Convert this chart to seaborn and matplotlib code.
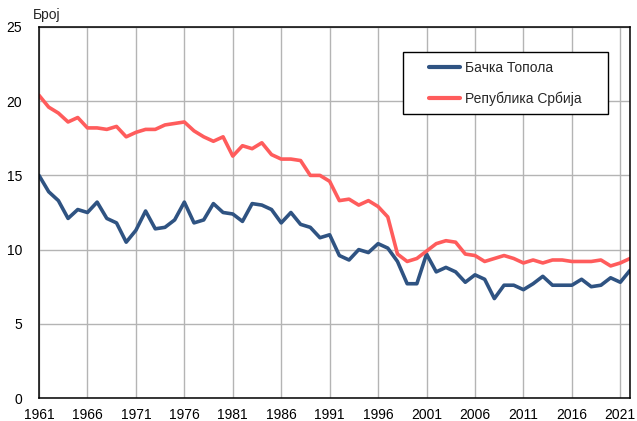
import matplotlib
matplotlib.use("Agg")
import matplotlib.pyplot as plt
from matplotlib.patches import Rectangle
import pandas as pd
import seaborn as sns

# ── Data ─────────────────────────────────────────────────────────────────────
years = list(range(1961, 2023))

backa_topola = [
    15.0, 13.9, 13.3, 12.1, 12.7, 12.5, 13.2, 12.1, 11.8, 10.5,
    11.3, 12.6, 11.4, 11.5, 12.0, 13.2, 11.8, 12.0, 13.1, 12.5,
    12.4, 11.9, 13.1, 13.0, 12.7, 11.8, 12.5, 11.7, 11.5, 10.8,
    11.0, 9.6, 9.3, 10.0, 9.8, 10.4, 10.1, 9.2, 7.7, 7.7,
    9.7, 8.5, 8.8, 8.5, 7.8, 8.3, 8.0, 6.7, 7.6, 7.6,
    7.3, 7.7, 8.2, 7.6, 7.6, 7.6, 8.0, 7.5, 7.6, 8.1,
    7.8, 8.6,
]

republika_srbija = [
    20.4, 19.6, 19.2, 18.6, 18.9, 18.2, 18.2, 18.1, 18.3, 17.6,
    17.9, 18.1, 18.1, 18.4, 18.5, 18.6, 18.0, 17.6, 17.3, 17.6,
    16.3, 17.0, 16.8, 17.2, 16.4, 16.1, 16.1, 16.0, 15.0, 15.0,
    14.6, 13.3, 13.4, 13.0, 13.3, 12.9, 12.2, 9.7, 9.2, 9.4,
    9.9, 10.4, 10.6, 10.5, 9.7, 9.6, 9.2, 9.4, 9.6, 9.4,
    9.1, 9.3, 9.1, 9.3, 9.3, 9.2, 9.2, 9.2, 9.3, 8.9,
    9.1, 9.4,
]

series_names = ["Бачка Топола", "Република Србија"]
x_ticks = list(range(1961, 2022, 5))
y_ticks = [0, 5, 10, 15, 20, 25]

COLORS = ["#2f5382", "#ff5c5c"]

df = pd.DataFrame({
    "year": years * 2,
    "value": backa_topola + republika_srbija,
    "series": [series_names[0]] * len(years) + [series_names[1]] * len(years),
})

# ── Style ────────────────────────────────────────────────────────────────────
sns.set_style("white")
plt.rcParams["font.family"] = ["Liberation Sans", "DejaVu Sans"]

W, H = 637, 421
fig = plt.figure(figsize=(W / 100, H / 100), dpi=100)
ax = fig.add_axes([39 / W, 1 - 398 / H, 591 / W, 371 / H])

sns.lineplot(
    data=df, x="year", y="value", hue="series",
    hue_order=series_names, palette=COLORS,
    linewidth=2.6, ax=ax,
)

ax.set_xlim(1961, 2022)
ax.set_ylim(0, 25)
ax.set_xticks(x_ticks + [2022])
ax.set_xticklabels([str(t) for t in x_ticks] + [""])
ax.set_yticks(y_ticks)
ax.tick_params(axis="both", length=0, labelsize=10, colors="black")
ax.tick_params(axis="x", pad=7)
ax.tick_params(axis="y", pad=12)
ax.grid(True, color="#b4b4b4", linewidth=1.0)
ax.set_axisbelow(True)
ax.set_xlabel("")
ax.set_ylabel("")

for side in ["left", "bottom", "top", "right"]:
    ax.spines[side].set_color("black")
    ax.spines[side].set_linewidth(1.1)

fig.text(33 / W, 1 - 15 / H, "Број", fontsize=10, va="center", ha="left")

# legend box drawn separately so the side margins can be wider than the top
ax.add_patch(Rectangle(
    (403 / W, 1 - 114 / H), 205 / W, 62 / H, transform=fig.transFigure,
    facecolor="white", edgecolor="black", linewidth=1.0, zorder=4.5,
    clip_on=False,
))
leg = ax.legend(
    loc="center", bbox_to_anchor=(505.5 / W, 1 - 83.5 / H),
    bbox_transform=fig.transFigure,
    frameon=False, fontsize=10, handlelength=2.2, handletextpad=0.4,
    borderpad=0, labelspacing=1.15,
)
leg.set_zorder(6)
for line in leg.get_lines():
    line.set_linewidth(3)

fig.savefig("out.png", dpi=100)
